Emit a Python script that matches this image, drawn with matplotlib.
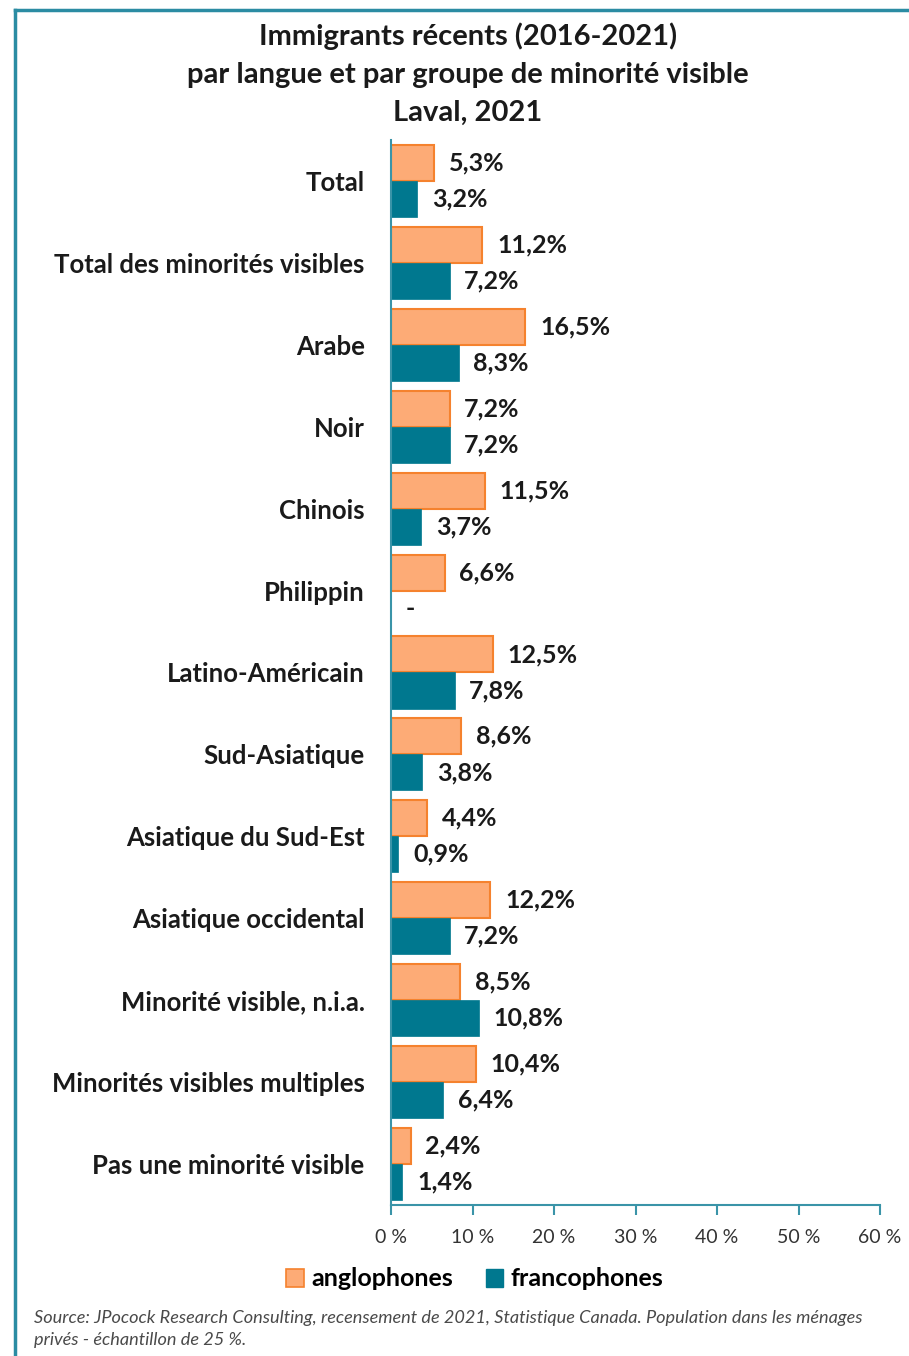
import matplotlib.pyplot as plt
import numpy as np
from matplotlib.lines import Line2D
from matplotlib.patches import Patch

plt.rcParams['font.family'] = ['Lato', 'DejaVu Sans']

categories = ['Total', 'Total des minorités visibles', 'Arabe', 'Noir', 'Chinois',
              'Philippin', 'Latino-Américain', 'Sud-Asiatique', 'Asiatique du Sud-Est',
              'Asiatique occidental', 'Minorité visible, n.i.a.',
              'Minorités visibles multiples', 'Pas une minorité visible']
anglophones = [5.3, 11.2, 16.5, 7.2, 11.5, 6.6, 12.5, 8.6, 4.4, 12.2, 8.5, 10.4, 2.4]
francophones = [3.2, 7.2, 8.3, 7.2, 3.7, None, 7.8, 3.8, 0.9, 7.2, 10.8, 6.4, 1.4]
ticks = [0, 10, 20, 30, 40, 50, 60]

orange_fill = '#FDAB76'
orange_edge = '#F5822E'
teal = '#00788F'
axis_col = '#3A94A8'
text_col = '#1a1a1a'

fig = plt.figure(figsize=(9.09, 13.56), dpi=100)
W, H = 909, 1356
ax = fig.add_axes([391 / W, 1 - 1205 / H, (880 - 391) / W, (1205 - 140) / H])

y = np.arange(len(categories))
bh = 0.44
fr_vals = [v if v is not None else 0 for v in francophones]
ax.barh(y - bh / 2, anglophones, height=bh, color=orange_fill, edgecolor=orange_edge, linewidth=1.5)
ax.barh(y + bh / 2, fr_vals, height=bh, color=teal, edgecolor=teal, linewidth=0.5)

def fmt(v):
    return f'{v:.1f}%'.replace('.', ',')

for i, v in enumerate(anglophones):
    ax.text(v + 1.8, i - bh / 2, fmt(v), va='center', ha='left', fontsize=18,
            fontweight='bold', color=text_col)
for i, v in enumerate(francophones):
    if v is None:
        ax.text(1.8, i + bh / 2, '-', va='center', ha='left', fontsize=18,
                fontweight='bold', color=text_col)
    else:
        ax.text(v + 1.8, i + bh / 2, fmt(v), va='center', ha='left', fontsize=18,
                fontweight='bold', color=text_col)

ax.set_ylim(len(categories) - 0.5, -0.5)
ax.set_xlim(0, 60)
ax.set_yticks(y)
ax.set_yticklabels(categories, fontsize=18.5, fontweight='bold', color=text_col)
ax.tick_params(axis='y', length=0, pad=19)
ax.set_xticks(ticks)
ax.set_xticklabels([f'{t} %' for t in ticks], fontsize=14, color='#333333')
ax.tick_params(axis='x', length=7, width=1.5, color=axis_col, pad=10, direction='out')
for s in ['top', 'right']:
    ax.spines[s].set_visible(False)
ax.spines['left'].set_color(axis_col)
ax.spines['left'].set_linewidth(1.5)
ax.spines['bottom'].set_color(axis_col)
ax.spines['bottom'].set_linewidth(1.5)

fig.text(468 / W, 1 - 36 / H, 'Immigrants récents (2016-2021)', ha='center', va='center',
         fontsize=21, fontweight='bold', color=text_col)
fig.text(468 / W, 1 - 75 / H, 'par langue et par groupe de minorité visible', ha='center',
         va='center', fontsize=21, fontweight='bold', color=text_col)
fig.text(468 / W, 1 - 113 / H, 'Laval, 2021', ha='center', va='center',
         fontsize=21, fontweight='bold', color=text_col)

handles = [Patch(facecolor=orange_fill, edgecolor=orange_edge, linewidth=1.2),
           Patch(facecolor=teal, edgecolor=teal)]
fig.legend(handles, ['anglophones', 'francophones'], loc='center',
           bbox_to_anchor=(475 / W, 1 - 1279 / H), ncol=2, frameon=False,
           prop={'size': 18, 'weight': 'bold'}, handlelength=0.7, handleheight=0.7,
           handletextpad=0.3, columnspacing=1.3)

fig.text(34 / W, 1 - 1318 / H,
         'Source: JPocock Research Consulting, recensement de 2021, Statistique Canada. Population dans les ménages',
         ha='left', va='center', fontsize=13.1, style='italic', color='#4a4a4a')
fig.text(34 / W, 1 - 1340 / H, 'privés - échantillon de 25 %.', ha='left', va='center',
         fontsize=13.1, style='italic', color='#4a4a4a')

# frame border (top and left only visible in the crop)
fig.add_artist(Line2D([15 / W, 15 / W], [0, 1 - 10 / H], color='#2B8CA3', linewidth=2.5,
                      transform=fig.transFigure))
fig.add_artist(Line2D([15 / W, 1], [1 - 10 / H, 1 - 10 / H], color='#2B8CA3', linewidth=2.5,
                      transform=fig.transFigure))

fig.savefig('out.png', dpi=100)
